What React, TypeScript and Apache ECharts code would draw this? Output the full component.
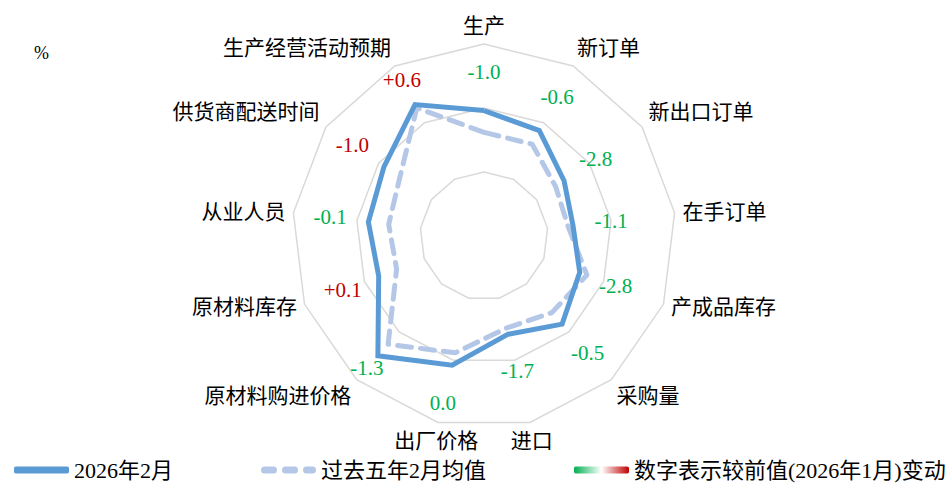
import React, { useEffect, useRef } from "react";
import * as echarts from "echarts";

// ---- data ----
const indicators = [
  "生产",
  "新订单",
  "新出口订单",
  "在手订单",
  "产成品库存",
  "采购量",
  "进口",
  "出厂价格",
  "原材料购进价格",
  "原材料库存",
  "从业人员",
  "供货商配送时间",
  "生产经营活动预期",
];
const feb2026 = [49.8, 49.3, 47.6, 47.0, 48.0, 49.2, 47.9, 50.4, 52.5, 48.8, 49.1, 49.5, 51.6];
const pastFiveYearFebAvg = [48.1, 48.1, 46.8, 46.6, 48.6, 48.0, 47.4, 49.4, 51.3, 47.3, 47.5, 48.0, 51.3];
const changeVsJan = [-1.0, -0.6, -2.8, -1.1, -2.8, -0.5, -1.7, 0.0, -1.3, 0.1, -0.1, -1.0, 0.6];
const inverseIndicators = ["供货商配送时间"];
const axisMin = 40;
const axisMax = 55;

const seriesNames = ["2026年2月", "过去五年2月均值", "数字表示较前值(2026年1月)变动"];

const FONT = "'Liberation Serif', 'Noto Sans CJK SC', serif";
const SOLID = "#5B9BD5";
const DASH = "#B4C7E7";
const GREEN = "#00B050";
const RED = "#C00000";

export default function App() {
  const ref = useRef<HTMLDivElement>(null);

  useEffect(() => {
    if (!ref.current) return;
    const chart = echarts.init(ref.current, undefined, { renderer: "svg" });
    const n = indicators.length;
    // ECharts radar runs counter-clockwise: reorder so the reference's clockwise order appears
    const order = indicators.map((_, k) => (k === 0 ? 0 : n - k));

    const indicatorOpts = order.map((i) => {
      const theta = (i * 2 * Math.PI) / n;
      const s = Math.sin(theta);
      const c = Math.cos(theta);
      const align = s > 0.3 ? "left" : s < -0.3 ? "right" : "center";
      const verticalAlign = c > 0.4 ? "bottom" : c < -0.4 ? "top" : "middle";
      return {
        name: indicators[i],
        min: axisMin,
        max: axisMax,
        nameGap: 8,
        nameTextStyle: { align, verticalAlign },
      };
    });

    const labelAnchor = order.map((i) => Math.min(feb2026[i] + 3, axisMin + (axisMax - axisMin) * 0.92));

    const fmt = (v: number) => (v > 0 ? "+" : "") + v.toFixed(1);

    const option: any = {
      animation: false,
      title: {
        text: "%",
        left: 29,
        top: 39,
        textStyle: { fontSize: 18, fontWeight: "normal", fontFamily: FONT, color: "#000" },
      },
      legend: {
        left: 9,
        top: 454,
        itemWidth: 55,
        itemHeight: 7,
        itemGap: 88,
        textStyle: { fontSize: 22, fontFamily: FONT, color: "#000" },
        data: [
          { name: seriesNames[0], icon: "roundRect" },
          {
            name: seriesNames[1],
            icon:
              "path://M3.5,0h9a3.5,3.5 0 0 1 0,7h-9a3.5,3.5 0 0 1 0,-7z M24.5,0h9a3.5,3.5 0 0 1 0,7h-9a3.5,3.5 0 0 1 0,-7z M45.5,0h6a3.5,3.5 0 0 1 0,7h-6a3.5,3.5 0 0 1 0,-7z",
          },
          {
            name: seriesNames[2],
            icon: "roundRect",
            itemStyle: {
              color: new echarts.graphic.LinearGradient(0, 0, 1, 0, [
                { offset: 0, color: GREEN },
                { offset: 0.5, color: "#FFFFFF" },
                { offset: 1, color: RED },
              ]),
            },
          },
        ],
      },
      radar: {
        center: [484, 236],
        radius: 192,
        shape: "polygon",
        splitNumber: 3,
        startAngle: 90,
        indicator: indicatorOpts,
        axisName: { color: "#000", fontSize: 21, fontFamily: FONT },
        axisLine: { show: false },
        axisTick: { show: false },
        axisLabel: { show: false },
        splitArea: { show: false },
        splitLine: { lineStyle: { color: "#D9D9D9", width: 1.5 } },
      },
      series: [
        {
          name: seriesNames[1],
          type: "radar",
          symbol: "none",
          z: 2,
          itemStyle: { color: DASH },
          lineStyle: { color: DASH, width: 5, type: [14, 9], cap: "round", join: "round" },
          data: [{ name: seriesNames[1], value: order.map((i) => pastFiveYearFebAvg[i]) }],
        },
        {
          name: seriesNames[0],
          type: "radar",
          symbol: "none",
          z: 3,
          itemStyle: { color: SOLID },
          lineStyle: { color: SOLID, width: 5, join: "miter" },
          data: [{ name: seriesNames[0], value: order.map((i) => feb2026[i]) }],
        },
        {
          name: seriesNames[2],
          type: "radar",
          symbol: "circle",
          symbolSize: 1,
          silent: true,
          z: 4,
          itemStyle: { color: "rgba(0,0,0,0)" },
          lineStyle: { width: 0, opacity: 0 },
          label: {
            show: true,
            position: "inside",
            fontSize: 21,
            fontFamily: FONT,
            formatter: (p: any) => {
              const i = order[p.dimensionIndex];
              const v = changeVsJan[i];
              const good = inverseIndicators.includes(indicators[i]) ? -v : v;
              return (good > 0 ? "{r|" : "{g|") + fmt(v) + "}";
            },
            rich: {
              r: { color: RED, fontSize: 21, fontFamily: FONT },
              g: { color: GREEN, fontSize: 21, fontFamily: FONT },
            },
          },
          data: [{ name: seriesNames[2], value: labelAnchor }],
        },
      ],
    };

    chart.setOption(option);
    return () => chart.dispose();
  }, []);

  return (
    <div
      ref={ref}
      style={{ position: "fixed", left: 0, top: 0, width: 952, height: 492, background: "#fff" }}
    />
  );
}
